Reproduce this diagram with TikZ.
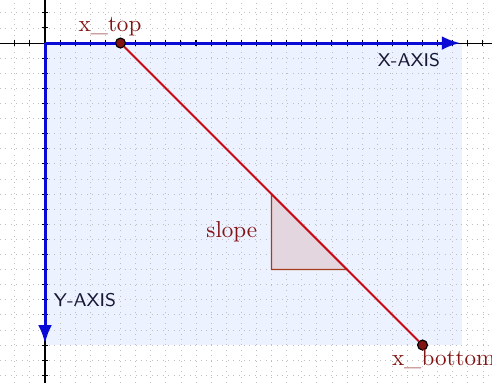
\documentclass[tikz,border=0pt]{standalone}
\usepackage{amsmath,amssymb,amsfonts}
\usepackage{xcolor}
\usepackage{tikz}
\usetikzlibrary{arrows.meta,positioning}

\definecolor{axisblue}{RGB}{10,10,215}
\definecolor{areablue}{RGB}{236,242,255}
\definecolor{linered}{RGB}{200,10,20}
\definecolor{labelred}{RGB}{130,20,20}
\definecolor{triedge}{RGB}{165,60,30}
\definecolor{trifill}{RGB}{228,214,222}
\definecolor{axistext}{RGB}{25,25,55}

\begin{document}
\begin{tikzpicture}[x=0.23cm, y=0.23cm,
    dotgrid/.style={gray!50, dotted, line width=0.35pt, step=0.23cm},
    blueaxis/.style={axisblue, line width=1.3pt, -{Latex[length=8pt,width=6pt]}},
    pt/.style={circle, fill=labelred, draw=black, line width=0.5pt, inner sep=0pt, minimum size=4.3pt},
    lbl/.style={text=labelred, inner sep=1pt},
    axislbl/.style={text=axistext, font=\sffamily\footnotesize}]
    \useasboundingbox (-2.98,-22.52) rectangle (29.6,2.85);
    \fill[areablue] (0,0) rectangle (27.6,-20);
    \draw[dotgrid] (-2.98,-22.52) grid (29.6,2.85);
    \draw[black, line width=0.45pt] (-2.98,0) -- (29.6,0);
    \draw[black, line width=0.45pt] (0,2.85) -- (0,-22.52);
    \foreach \i in {-2,...,29}
        \draw[black, line width=0.45pt] (\i,0.22) -- (\i,-0.22);
    \foreach \j in {-22,...,2}
        \draw[black, line width=0.45pt] (-0.22,\j) -- (0.22,\j);

    \coordinate (origin) at (0,0);
    \coordinate (xend) at (27.5,0);
    \coordinate (yend) at (0,-19.9);
    \draw[blueaxis] (origin) -- (xend);
    \draw[blueaxis] (origin) -- (yend);

    \coordinate (tritop) at (15,-10);
    \coordinate (trimid) at (15,-12.5);
    \coordinate (tricorner) at (15,-15);
    \coordinate (triright) at (20,-15);
    \draw[triedge, fill=trifill, line width=0.6pt] (tritop) -- (tricorner) -- (triright) -- cycle;

    \node[pt] (xtop) at (5,0) {};
    \node[pt] (xbottom) at (25,-20) {};
    \draw[linered, line width=0.8pt] (xtop) -- (xbottom);

    \node[lbl] (xtoplbl) at (4.3,1.1) {x\_top};
    \node[lbl] (xbottomlbl) at (26.4,-20.95) {x\_bottom};
    \node[lbl, left=5pt of trimid] (slopelbl) {slope};
    \node[axislbl] (xaxislbl) at (24.1,-1.15) {X-AXIS};
    \node[axislbl] (yaxislbl) at (2.65,-17) {Y-AXIS};
\end{tikzpicture}
\end{document}
